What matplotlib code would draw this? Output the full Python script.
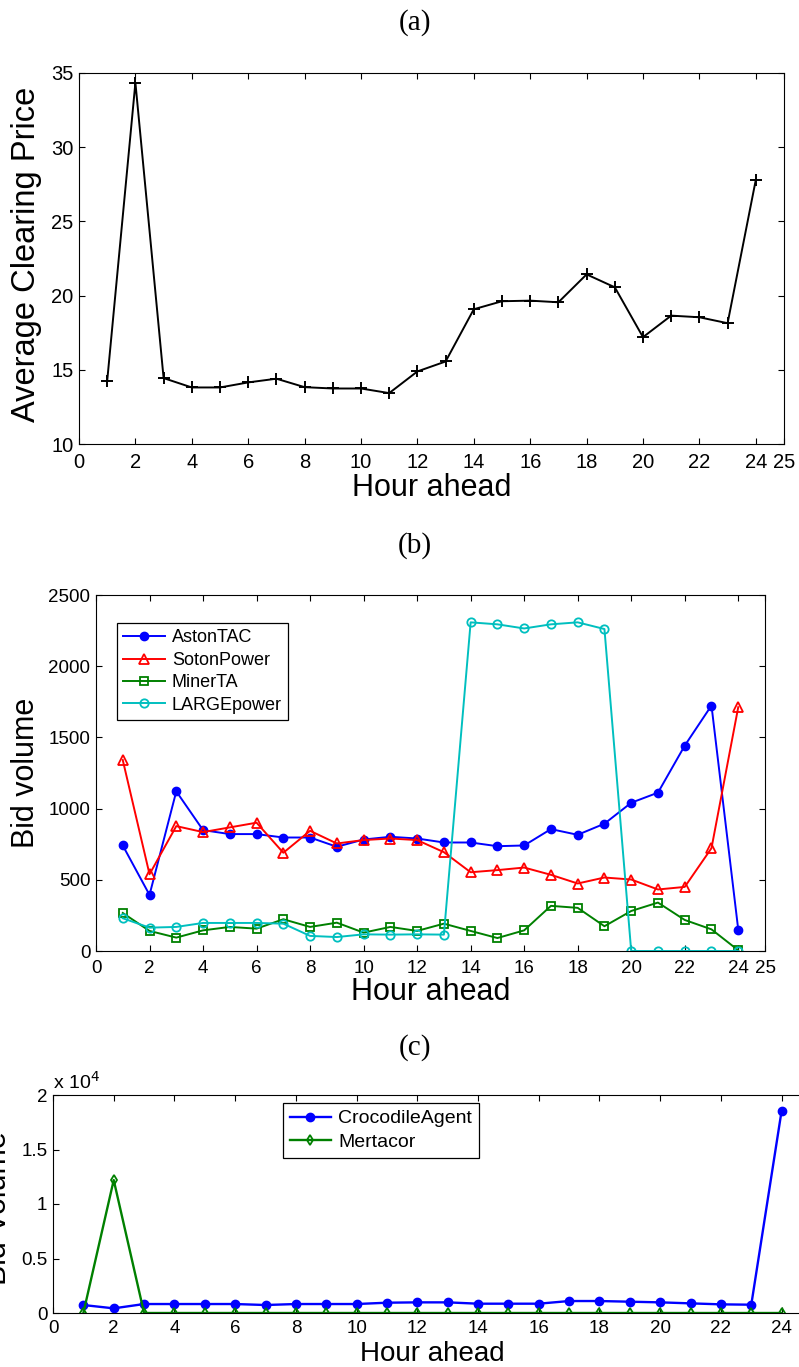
import matplotlib
matplotlib.use("Agg")
import matplotlib.pyplot as plt
from matplotlib.ticker import FuncFormatter

# ---- data ----
hours = list(range(1, 25))

clearing_price = [14.26, 34.35, 14.44, 13.81, 13.81, 14.15, 14.40, 13.83, 13.74, 13.74,
                  13.43, 14.89, 15.56, 19.08, 19.62, 19.66, 19.55, 21.43, 20.56, 17.20,
                  18.65, 18.54, 18.14, 27.80]

aston_tac = [741, 394, 1121, 849, 821, 821, 797, 797, 732, 783, 802, 790,
             762, 762, 736, 741, 856, 816, 894, 1041, 1112, 1442, 1724, 150]
soton_power = [1341, 539, 877, 835, 868, 901, 690, 844, 755, 779, 790, 779,
               694, 553, 568, 586, 535, 474, 516, 502, 432, 450, 722, 1712]
miner_ta = [267, 141, 94, 145, 169, 157, 223, 169, 199, 129, 169, 141,
            192, 141, 91, 145, 317, 303, 174, 281, 340, 218, 152, 5]
large_power = [230, 164, 169, 197, 197, 197, 192, 106, 98, 117, 115, 117,
               115, 2308, 2294, 2265, 2294, 2308, 2261, 0, 0, 0, 0, 0]

crocodile_agent = [732, 427, 823, 823, 823, 823, 732, 823, 823, 823, 945, 976,
                   976, 854, 854, 854, 1098, 1098, 1037, 976, 884, 793, 762, 18568]
mertacor = [0, 12195, 0, 0, 0, 0, 0, 0, 0, 0, 0, 0,
            0, 0, 0, 0, 0, 0, 0, 0, 0, 0, 0, 0]

ticks_ab = list(range(0, 25, 2)) + [25]
ticks_c = list(range(0, 25, 2))

# ---- style ----
plt.rcParams['font.family'] = ['Liberation Sans', 'DejaVu Sans']
plt.rcParams['axes.linewidth'] = 0.8

W, H = 799, 1367
fig = plt.figure(figsize=(W / 100, H / 100), dpi=100)


def axes_px(left, top, right, bottom):
    return fig.add_axes([left / W, 1 - bottom / H, (right - left) / W, (bottom - top) / H])


def style_axes(ax, fs, xpad=6.5):
    ax.tick_params(direction='in', top=True, right=True, length=4.5, width=0.8,
                   labelsize=fs, pad=4)
    ax.tick_params(axis='x', pad=xpad)


title_kw = dict(family=['Liberation Serif', 'DejaVu Serif'], fontsize=21,
                ha='center', va='center')

# (a) average clearing price
fig.text(415 / W, 1 - 23 / H, '(a)', **title_kw)
ax1 = axes_px(79, 73, 784, 444)
ax1.plot(hours, clearing_price, color='black', lw=1.4, marker='+', ms=8, mew=1.4)
ax1.set_xlim(0, 25)
ax1.set_ylim(10, 35)
ax1.set_xticks(ticks_ab)
ax1.set_yticks(range(10, 36, 5))
style_axes(ax1, 14.5)
ax1.set_xlabel('Hour ahead', fontsize=22, labelpad=1)
ax1.set_ylabel('Average Clearing Price', fontsize=23.5)
ax1.yaxis.set_label_coords(-0.052, 0.51)

# (b) bid volume per broker
fig.text(415 / W, 1 - 546 / H, '(b)', **title_kw)
ax2 = axes_px(96, 595, 765, 951)
ax2.plot(hours, aston_tac, color='#0000ff', lw=1.4, marker='o', ms=6,
         label='AstonTAC')
ax2.plot(hours, soton_power, color='#ff0000', lw=1.4, marker='^', ms=7,
         mfc='none', mew=1.3, label='SotonPower')
ax2.plot(hours, miner_ta, color='#008000', lw=1.4, marker='s', ms=5.5,
         mfc='none', mew=1.3, label='MinerTA')
ax2.plot(hours, large_power, color='#00bfbf', lw=1.4, marker='o', ms=6,
         mfc='none', mew=1.3, label='LARGEpower')
ax2.set_xlim(0, 25)
ax2.set_ylim(0, 2500)
ax2.set_xticks(ticks_ab)
ax2.set_yticks(range(0, 2501, 500))
style_axes(ax2, 13.5)
ax2.set_xlabel('Hour ahead', fontsize=22, labelpad=0)
ax2.set_ylabel('Bid volume', fontsize=22)
ax2.yaxis.set_label_coords(-0.082, 0.5)
leg2 = ax2.legend(loc='upper left', bbox_to_anchor=(0.031, 0.921), fontsize=13,
                  frameon=True, fancybox=False, edgecolor='black', framealpha=1,
                  handlelength=2.3, handletextpad=0.4, labelspacing=0.3,
                  borderpad=0.35, borderaxespad=0)
leg2.get_frame().set_linewidth(0.9)

# (c) bid volume of the remaining brokers
fig.text(415 / W, 1 - 1048 / H, '(c)', **title_kw)
ax3 = axes_px(53, 1095, 812, 1313)
ax3.plot(hours, crocodile_agent, color='#0000ff', lw=1.7, marker='o', ms=6,
         label='CrocodileAgent')
ax3.plot(hours, mertacor, color='#008000', lw=1.7, marker='d', ms=5.5,
         mfc='none', mew=1.3, label='Mertacor')
ax3.set_xlim(0, 25)
ax3.set_ylim(0, 20000)
ax3.set_xticks(ticks_c)
ax3.set_yticks([0, 5000, 10000, 15000, 20000])
ax3.yaxis.set_major_formatter(FuncFormatter(lambda v, p: f'{v / 1e4:g}'))
style_axes(ax3, 13.5, xpad=5)
ax3.text(0.0, 1.01, r'x 10$^4$', transform=ax3.transAxes, fontsize=14,
         ha='left', va='bottom')
ax3.set_xlabel('Hour ahead', fontsize=20)
ax3.xaxis.set_label_coords(0.5, -0.128)
ax3.set_ylabel('Bid Volume', fontsize=22)
ax3.yaxis.set_label_coords(-0.053, 0.48)
leg3 = ax3.legend(loc='upper left', bbox_to_anchor=(0.303, 0.963), fontsize=14,
                  frameon=True, fancybox=False, edgecolor='black', framealpha=1,
                  handlelength=2.1, handletextpad=0.4, labelspacing=0.3,
                  borderpad=0.35, borderaxespad=0)
leg3.get_frame().set_linewidth(0.9)

fig.savefig('out.png', dpi=100)
